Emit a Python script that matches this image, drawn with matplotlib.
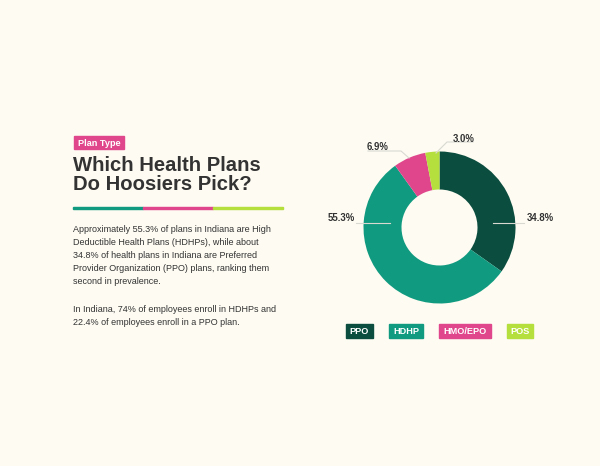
import matplotlib.pyplot as plt
from matplotlib.patches import Rectangle

# data
plans = ['PPO', 'HDHP', 'HMO/EPO', 'POS']
shares = [34.8, 55.3, 6.9, 3.0]
pct_labels = ['34.8%', '55.3%', '6.9%', '3.0%']
colors = ['#0b4d3f', '#109a80', '#e0468b', '#b5df3c']

bg = '#fdfbf2'
ink = '#333333'
W, H = 600, 466
plt.rcParams['font.family'] = ['Liberation Sans', 'DejaVu Sans']

fig = plt.figure(figsize=(6, 4.66), dpi=100, facecolor=bg)


def fx(px):
    return px / W


def fy(py):
    return 1 - py / H


def badge(x0, x1, y0, y1, text, color, size):
    fig.add_artist(Rectangle((fx(x0), fy(y1)), fx(x1 - x0), (y1 - y0) / H,
                             color=color, transform=fig.transFigure))
    fig.text(fx((x0 + x1) / 2), fy((y0 + y1) / 2), text, color='white',
             fontsize=size, fontweight='bold', ha='center', va='center_baseline')


# --- left column ---
badge(74, 124, 136, 149, 'Plan Type', '#e0468b', 6.6)
fig.text(fx(73), fy(171), 'Which Health Plans', color=ink, fontsize=14.6,
         fontweight='bold', va='baseline')
fig.text(fx(73), fy(189.5), 'Do Hoosiers Pick?', color=ink, fontsize=14.6,
         fontweight='bold', va='baseline')

# tri-color rule
for i, c in enumerate(['#109a80', '#e0468b', '#b5df3c']):
    fig.add_artist(Rectangle((fx(73 + i * 70), fy(209.2)), fx(70), 1.8 / H,
                             color=c, transform=fig.transFigure))

para1 = ['Approximately 55.3% of plans in Indiana are High',
         'Deductible Health Plans (HDHPs), while about',
         '34.8% of health plans in Indiana are Preferred',
         'Provider Organization (PPO) plans, ranking them',
         'second in prevalence.']
para2 = ['In Indiana, 74% of employees enroll in HDHPs and',
         '22.4% of employees enroll in a PPO plan.']
for i, line in enumerate(para1):
    fig.text(fx(73), fy(229 + i * 13.2), line, color=ink, fontsize=6.5, va='center')
for i, line in enumerate(para2):
    fig.text(fx(73), fy(309 + i * 13.2), line, color=ink, fontsize=6.5, va='center')

# --- donut ---
cx, cy, r = 439.5, 227.5, 76
half = 100
ax = fig.add_axes([fx(cx - half), fy(cy + half), 2 * half / W, 2 * half / H])
ax.set_facecolor(bg)
ax.pie(shares, colors=colors, startangle=90, counterclock=False, radius=1,
       wedgeprops=dict(width=0.5, edgecolor='none'))
lim = half / r
ax.set_xlim(-lim, lim)
ax.set_ylim(-lim, lim)
ax.set_aspect('equal')
ax.axis('off')


def p(x, y):
    return ((x - cx) / r, (cy - y) / r)


# leader lines and label positions in pixels
leaders = [
    [(493, 223), (524, 223)],
    [(356, 223), (390, 223)],
    [(409, 158), (401, 151), (368, 151)],
    [(436, 153), (447, 142), (473, 142)],
]
label_pos = [(527, 218), (355, 218), (367, 147), (453, 139)]
label_ha = ['left', 'right', 'left', 'left']
for txt, pts, pos, ha in zip(pct_labels, leaders, label_pos, label_ha):
    xs, ys = zip(*[p(*q) for q in pts])
    ax.plot(xs, ys, color='#d9d9d2', lw=0.8, clip_on=False)
    ax.text(*p(*pos), txt, color=ink, fontsize=6.9, fontweight='bold',
            ha=ha, va='center', clip_on=False)

# legend badges
legend_x = [(346, 373), (389, 423), (439, 491), (507, 533)]
for (x0, x1), name, c in zip(legend_x, plans, colors):
    badge(x0, x1, 324, 338, name, c, 6.6)

fig.savefig('out.png', dpi=100, facecolor=bg)
